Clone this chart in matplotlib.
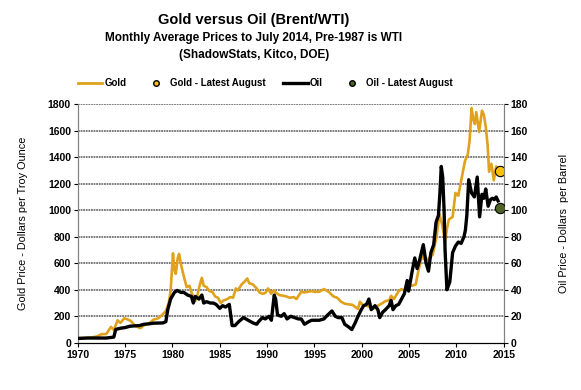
import matplotlib
matplotlib.use("Agg")
import matplotlib.pyplot as plt
from matplotlib.lines import Line2D

# gold: monthly average, dollars per troy ounce
gold_dates = [1970.0, 1970.5, 1971.0, 1971.5, 1972.0, 1972.5, 1973.0, 1973.5, 1973.8, 1974.2,
              1974.5, 1974.9, 1975.2, 1975.6, 1976.0, 1976.6, 1977.0, 1977.5, 1978.0, 1978.5,
              1978.9, 1979.3, 1979.6, 1979.8, 1980.05, 1980.2, 1980.35, 1980.55, 1980.7, 1980.9,
              1981.2, 1981.5, 1981.8, 1982.0, 1982.4, 1982.6, 1982.9, 1983.1, 1983.3, 1983.6,
              1983.9, 1984.2, 1984.5, 1984.8, 1985.1, 1985.4, 1985.8, 1986.1, 1986.4, 1986.7,
              1986.9, 1987.3, 1987.6, 1987.9, 1988.1, 1988.5, 1988.9, 1989.2, 1989.5, 1989.8,
              1990.1, 1990.4, 1990.7, 1990.9, 1991.3, 1991.7, 1992.0, 1992.4, 1992.8, 1993.1,
              1993.6, 1993.9, 1994.3, 1994.7, 1995.0, 1995.5, 1996.0, 1996.5, 1997.0, 1997.4,
              1997.8, 1998.2, 1998.6, 1999.0, 1999.6, 1999.8, 2000.1, 2000.5, 2001.0, 2001.3,
              2001.7, 2002.2, 2002.5, 2002.9, 2003.1, 2003.4, 2003.9, 2004.2, 2004.5, 2004.9,
              2005.3, 2005.7, 2006.0, 2006.4, 2006.7, 2007.0, 2007.5, 2007.9, 2008.2, 2008.5,
              2008.8, 2009.0, 2009.2, 2009.6, 2009.9, 2010.2, 2010.5, 2010.9, 2011.2, 2011.4,
              2011.6, 2011.8, 2011.95, 2012.1, 2012.4, 2012.7, 2012.9, 2013.1, 2013.3, 2013.45,
              2013.7, 2013.95, 2014.2, 2014.4]
gold_prices = [35, 36, 38, 41, 48, 65, 66, 120, 97, 170,
               150, 185, 178, 165, 130, 110, 133, 145, 175, 185,
               210, 240, 300, 390, 675, 550, 520, 640, 670, 590,
               500, 420, 430, 380, 315, 350, 440, 490, 430, 420,
               390, 385, 350, 340, 300, 320, 330, 345, 340, 410,
               395, 440, 460, 485, 450, 440, 410, 380, 370, 375,
               410, 370, 395, 380, 360, 355, 350, 340, 345, 330,
               385, 380, 385, 390, 385, 385, 405, 385, 350, 340,
               310, 295, 290, 287, 255, 310, 285, 280, 265, 260,
               280, 300, 315, 320, 355, 330, 390, 405, 395, 440,
               430, 440, 550, 660, 620, 630, 665, 800, 970, 890,
               760, 860, 930, 950, 1130, 1110, 1220, 1370, 1420, 1530,
               1770, 1680, 1650, 1740, 1590, 1750, 1720, 1630, 1490, 1290,
               1350, 1225, 1330, 1310]

# oil: monthly average, dollars per barrel (WTI pre-1987, Brent after)
oil_dates = [1970.0, 1971.0, 1972.0, 1973.0, 1973.8, 1974.0, 1974.5, 1975.0, 1975.5, 1976.0,
             1976.5, 1977.0, 1977.5, 1978.0, 1978.5, 1979.0, 1979.3, 1979.5, 1979.8, 1980.2,
             1980.5, 1980.9, 1981.2, 1981.6, 1982.0, 1982.2, 1982.4, 1982.6, 1982.8, 1983.1,
             1983.3, 1983.6, 1984.0, 1984.3, 1984.6, 1985.0, 1985.3, 1985.6, 1986.0, 1986.3,
             1986.6, 1987.0, 1987.5, 1988.0, 1988.5, 1988.9, 1989.1, 1989.5, 1989.8, 1990.2,
             1990.45, 1990.75, 1990.9, 1991.1, 1991.5, 1991.8, 1992.1, 1992.5, 1992.9, 1993.3,
             1993.6, 1993.95, 1994.4, 1994.7, 1995.0, 1995.5, 1996.0, 1996.4, 1996.85, 1997.2,
             1997.5, 1997.9, 1998.2, 1998.6, 1998.95, 1999.3, 1999.6, 1999.95, 2000.2, 2000.5,
             2000.75, 2001.0, 2001.4, 2001.7, 2001.9, 2002.2, 2002.5, 2002.9, 2003.1, 2003.3,
             2003.6, 2003.9, 2004.2, 2004.5, 2004.8, 2004.95, 2005.3, 2005.6, 2005.85, 2006.1,
             2006.5, 2006.8, 2007.05, 2007.3, 2007.6, 2007.85, 2008.1, 2008.25, 2008.4, 2008.55,
             2008.7, 2008.8, 2009.0, 2009.3, 2009.6, 2009.9, 2010.2, 2010.5, 2010.8, 2010.95,
             2011.1, 2011.3, 2011.6, 2011.9, 2012.2, 2012.45, 2012.7, 2012.9, 2013.1, 2013.35,
             2013.6, 2013.8, 2014.0, 2014.2, 2014.4]
oil_prices = [3.3, 3.6, 3.6, 3.6, 4.3, 10.1, 11, 11.5, 12.5, 12.8,
              13, 14, 14.3, 14.8, 14.9, 15, 16, 25, 33, 38,
              39.5, 38, 38, 36, 35, 30, 35, 34, 33, 36,
              30, 31, 30, 30, 29, 26, 28, 27, 29, 13,
              13, 16, 19, 17, 15, 14, 16, 19, 18, 20,
              17, 36, 33, 21, 20, 22, 18, 20, 19, 18,
              18, 14, 16, 17, 17, 17, 18, 21, 24, 20,
              19, 19, 14, 12, 10, 15, 20, 25, 28, 29,
              33, 25, 28, 25, 19, 23, 25, 28, 32, 25,
              28, 29, 33, 37, 47, 39, 53, 64, 56, 62,
              74, 60, 54, 68, 74, 91, 96, 112, 133, 125,
              100, 70, 40, 46, 68, 73, 76, 75, 80, 85,
              96, 123, 113, 110, 125, 95, 112, 109, 116, 103,
              108, 109, 108, 110, 107]

# latest August points
latest_date = 2014.6
gold_latest = 1293
oil_latest = 101.5

gold_color = "#E0A21C"
font = ["Liberation Sans", "DejaVu Sans"]
plt.rcParams["font.family"] = font

fig = plt.figure(figsize=(5.81, 3.90), dpi=100)
ax = fig.add_axes([0.134, 0.121, 0.733, 0.612])
ax2 = ax.twinx()

ax.plot(gold_dates, gold_prices, color=gold_color, lw=1.9, zorder=3)
ax.scatter([latest_date], [gold_latest], s=55, color="#FFC000", edgecolor="black", lw=0.8, zorder=5)
ax2.plot(oil_dates, oil_prices, color="black", lw=2.4, zorder=3)
ax2.scatter([latest_date], [oil_latest], s=55, color="#4F6228", edgecolor="black", lw=0.8, zorder=5)

ax.set_xlim(1970, 2015)
ax.set_ylim(0, 1800)
ax2.set_ylim(0, 180)
ax.set_xticks(range(1970, 2016, 5))
ax.set_yticks(range(0, 1801, 200))
ax2.set_yticks(range(0, 181, 20))

ax.set_zorder(ax2.get_zorder() - 1)
ax2.patch.set_visible(False)
for y in range(200, 1801, 200):
    ax.axhline(y, color="#5a5a5a", lw=1.1, linestyle=(0, (1.2, 0.5)), zorder=1)

for a in (ax, ax2):
    a.tick_params(labelsize=7.5, length=3, width=0.8, pad=2)
    for lab in a.get_xticklabels() + a.get_yticklabels():
        lab.set_fontweight("bold")
    a.spines["top"].set_visible(False)
    for s in ("left", "right"):
        a.spines[s].set_color("#808080")
ax.spines["bottom"].set_color("black")

ax.set_ylabel("Gold Price - Dollars per Troy Ounce", fontsize=7.8, labelpad=14)
ax2.set_ylabel("Oil Price - Dollars  per Barrel", fontsize=7.8, rotation=90, labelpad=22)

cx = 0.437
fig.text(cx, 0.938, "Gold versus Oil (Brent/WTI)", ha="center", fontsize=10.5, fontweight="bold")
fig.text(cx, 0.895, "Monthly Average Prices to July 2014, Pre-1987 is WTI", ha="center",
         fontsize=8.5, fontweight="bold")
fig.text(cx, 0.851, "(ShadowStats, Kitco, DOE)", ha="center", fontsize=8.5, fontweight="bold")

handles = [
    Line2D([], [], color=gold_color, lw=2),
    Line2D([], [], marker="o", ls="", color="#FFC000", markeredgecolor="black", markersize=4),
    Line2D([], [], color="black", lw=2.4),
    Line2D([], [], marker="o", ls="", color="#4F6228", markeredgecolor="black", markersize=4),
]
labels = ["Gold", "Gold - Latest August", "Oil", "Oil - Latest August"]
leg = fig.legend(handles, labels, loc="center", bbox_to_anchor=(0.457, 0.787), ncol=4,
                 frameon=False, fontsize=7, handlelength=2.5, columnspacing=1.8, handletextpad=0.2)
for t in leg.get_texts():
    t.set_fontweight("bold")

fig.savefig("out.png", dpi=100)
